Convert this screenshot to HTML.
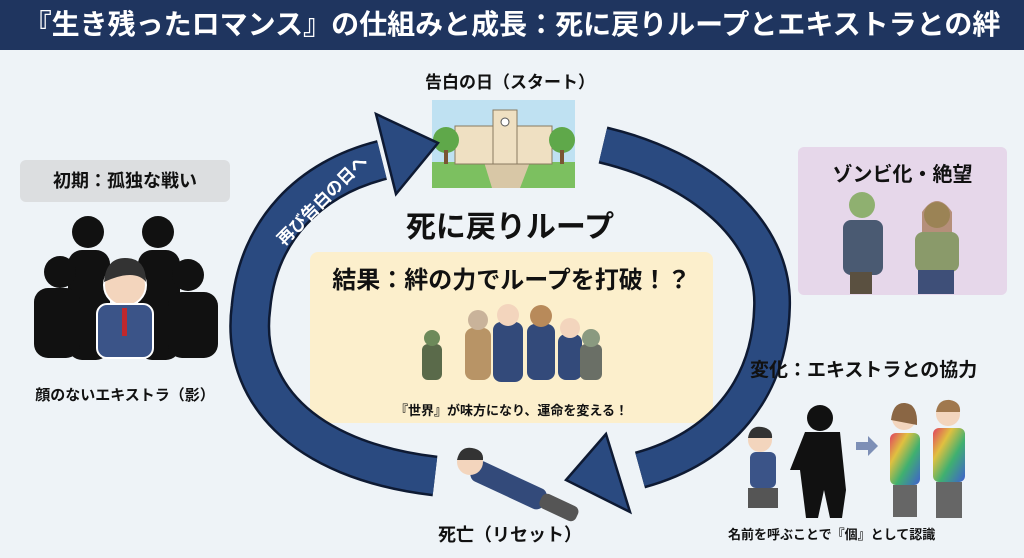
<!DOCTYPE html>
<html><head><meta charset="utf-8"><style>
body{margin:0;width:1024px;height:558px;overflow:hidden;background:#eef3f7;font-family:"Liberation Sans","Noto Sans CJK JP",sans-serif;font-weight:bold;color:#111;position:relative}
.a{position:absolute;white-space:nowrap}
.hdr{left:0;top:0;width:1024px;height:50px;background:#1f355f;color:#fff;font-size:28px;text-align:center;line-height:50px}
</style></head><body>
<div class="a hdr">『生き残ったロマンス』の仕組みと成長：死に戻りループとエキストラとの絆</div>

<div class="a" style="left:20px;top:160px;width:210px;height:42px;background:#dcdee0;border-radius:6px;font-size:18px;text-align:center;line-height:42px">初期：孤独な戦い</div>
<div class="a" style="left:798px;top:147px;width:209px;height:148px;background:#e6d7ea;border-radius:6px"></div>
<div class="a" style="left:310px;top:252px;width:403px;height:171px;background:#fcefcc;border-radius:8px"></div>

<svg class="a" style="left:0;top:0" width="1024" height="558">
<g fill="#111">
<circle cx="88" cy="232" r="16"/><rect x="68" y="250" width="42" height="110" rx="14"/>
<circle cx="158" cy="232" r="16"/><rect x="138" y="250" width="42" height="110" rx="14"/>
<circle cx="60" cy="272" r="16"/><rect x="34" y="288" width="46" height="70" rx="14"/>
<circle cx="188" cy="275" r="16"/><rect x="168" y="292" width="50" height="66" rx="14"/>
</g>
<circle cx="125" cy="285" r="21" fill="#f3d5bd" stroke="#fff" stroke-width="2"/>
<path d="M104 282 Q106 258 125 258 Q146 258 146 282 Q135 268 104 282Z" fill="#333"/>
<rect x="97" y="304" width="56" height="54" rx="10" fill="#3b5488" stroke="#fff" stroke-width="2"/>
<rect x="122" y="308" width="5" height="28" fill="#c0282d"/>
<rect x="432" y="100" width="143" height="88" fill="#bfe1f2"/>
<rect x="432" y="162" width="143" height="26" fill="#7cc060"/>
<polygon points="492,188 520,188 530,162 484,162" fill="#d8c7a6"/>
<rect x="455" y="126" width="97" height="38" fill="#efe0c2" stroke="#8a7a60"/>
<rect x="493" y="110" width="24" height="54" fill="#efe0c2" stroke="#8a7a60"/>
<circle cx="505" cy="122" r="4" fill="#fff" stroke="#555"/>
<circle cx="446" cy="140" r="13" fill="#5fa84a"/><rect x="444" y="150" width="4" height="14" fill="#7a5533"/>
<circle cx="562" cy="140" r="13" fill="#5fa84a"/><rect x="560" y="150" width="4" height="14" fill="#7a5533"/>
<path d="M435,476 C300,460 240,390 251,307 C258,230 310,178 382,160" fill="none" stroke="#0e1a33" stroke-width="41"/>
<path d="M435,476 C300,460 240,390 251,307 C258,230 310,178 382,160" fill="none" stroke="#2a4a80" stroke-width="36"/>
<polygon points="376,114 438,143 396,194" fill="#2a4a80" stroke="#0e1a33" stroke-width="2.5"/>
<path d="M603,145 C700,168 775,230 772,307 C770,390 720,448 640,470" fill="none" stroke="#0e1a33" stroke-width="38"/>
<path d="M603,145 C700,168 775,230 772,307 C770,390 720,448 640,470" fill="none" stroke="#2a4a80" stroke-width="33"/>
<polygon points="606,434 566,480 630,512" fill="#2a4a80" stroke="#0e1a33" stroke-width="2.5"/>
<text x="322" y="206" transform="rotate(-45 322 200)" fill="#fff" font-size="17" text-anchor="middle" font-weight="bold">再び告白の日へ</text>
<g>
<rect x="493" y="322" width="30" height="60" rx="8" fill="#334a7a"/><circle cx="508" cy="315" r="11" fill="#f3d5bd"/>
<rect x="465" y="328" width="26" height="52" rx="8" fill="#b89466"/><circle cx="478" cy="320" r="10" fill="#c9b39a"/>
<rect x="527" y="324" width="28" height="56" rx="8" fill="#334a7a"/><circle cx="541" cy="316" r="11" fill="#b88a5a"/>
<rect x="558" y="334" width="24" height="46" rx="8" fill="#334a7a"/><circle cx="570" cy="328" r="10" fill="#f3d5bd"/>
<rect x="422" y="344" width="20" height="36" rx="6" fill="#5a6a4a"/><circle cx="432" cy="338" r="8" fill="#6d8a5a"/>
<rect x="580" y="344" width="22" height="36" rx="6" fill="#6a6f66"/><circle cx="591" cy="338" r="9" fill="#8a9a80"/>
</g>
<g transform="rotate(25 500 480)">
<rect x="470" y="470" width="80" height="22" rx="8" fill="#334a7a"/>
<rect x="545" y="472" width="40" height="16" rx="6" fill="#555"/>
</g>
<circle cx="470" cy="462" r="13" fill="#f3d5bd"/>
<path d="M457 460 Q460 446 472 448 Q484 450 483 460Z" fill="#333"/>
<circle cx="862" cy="205" r="13" fill="#8fb070"/><rect x="843" y="220" width="40" height="55" rx="8" fill="#4a5a72"/><rect x="850" y="272" width="22" height="22" fill="#5a5040"/>
<circle cx="937" cy="215" r="13" fill="#8fb070"/><path d="M922 212 Q937 190 952 212 L952 236 L922 236Z" fill="#a0704a" opacity=".7"/><rect x="915" y="232" width="44" height="40" rx="8" fill="#8a9a6a"/><rect x="918" y="270" width="36" height="24" fill="#3e4f78"/>
<circle cx="760" cy="440" r="12" fill="#f3d5bd"/><path d="M748 438 Q750 425 762 427 Q773 429 772 438Z" fill="#333"/>
<rect x="750" y="452" width="26" height="36" rx="6" fill="#3b5488"/><rect x="748" y="488" width="30" height="20" fill="#555"/>
<circle cx="820" cy="418" r="13" fill="#111"/><path d="M805 432 L840 432 L846 490 L842 518 L830 518 L824 490 L818 518 L806 518 L800 470 L790 470 Z" fill="#111"/>
<polygon points="856,442 868,442 868,436 878,446 868,456 868,450 856,450" fill="#7d8fb6"/>
<circle cx="904" cy="418" r="12" fill="#f3d5bd"/><path d="M891 420 Q893 402 905 403 Q918 404 917 425Z" fill="#8a6644"/>
<rect x="890" y="433" width="30" height="52" rx="6" fill="url(#rb)"/><rect x="893" y="485" width="24" height="32" fill="#666"/>
<circle cx="948" cy="414" r="12" fill="#f3d5bd"/><path d="M936 412 Q938 399 950 400 Q961 402 960 412Z" fill="#a0784e"/>
<rect x="933" y="428" width="32" height="54" rx="6" fill="url(#rb)"/><rect x="936" y="482" width="26" height="36" fill="#666"/>
<defs><linearGradient id="rb" x1="0" y1="0" x2="1" y2="1"><stop offset="0" stop-color="#e04060"/><stop offset=".3" stop-color="#e0c040"/><stop offset=".6" stop-color="#40b070"/><stop offset="1" stop-color="#4060d0"/></linearGradient></defs>
</svg>

<div class="a" style="left:0;width:250px;top:384px;font-size:15px;text-align:center">顔のないエキストラ（影）</div>
<div class="a" style="left:410px;width:200px;top:68px;font-size:17px;text-align:center">告白の日（スタート）</div>
<div class="a" style="left:360px;width:300px;top:202px;font-size:30px;text-align:center">死に戻りループ</div>
<div class="a" style="left:310px;width:403px;top:260px;font-size:24px;text-align:center">結果：絆の力でループを打破！？</div>
<div class="a" style="left:310px;width:403px;top:400px;font-size:13px;text-align:center">『世界』が味方になり、運命を変える！</div>
<div class="a" style="left:410px;width:200px;top:521px;font-size:18px;text-align:center">死亡（リセット）</div>
<div class="a" style="left:798px;width:209px;top:158px;font-size:20px;text-align:center">ゾンビ化・絶望</div>
<div class="a" style="left:750px;top:355px;font-size:19px">変化：エキストラとの協力</div>
<div class="a" style="left:728px;top:524px;font-size:13px">名前を呼ぶことで『個』として認識</div>
</body></html>
